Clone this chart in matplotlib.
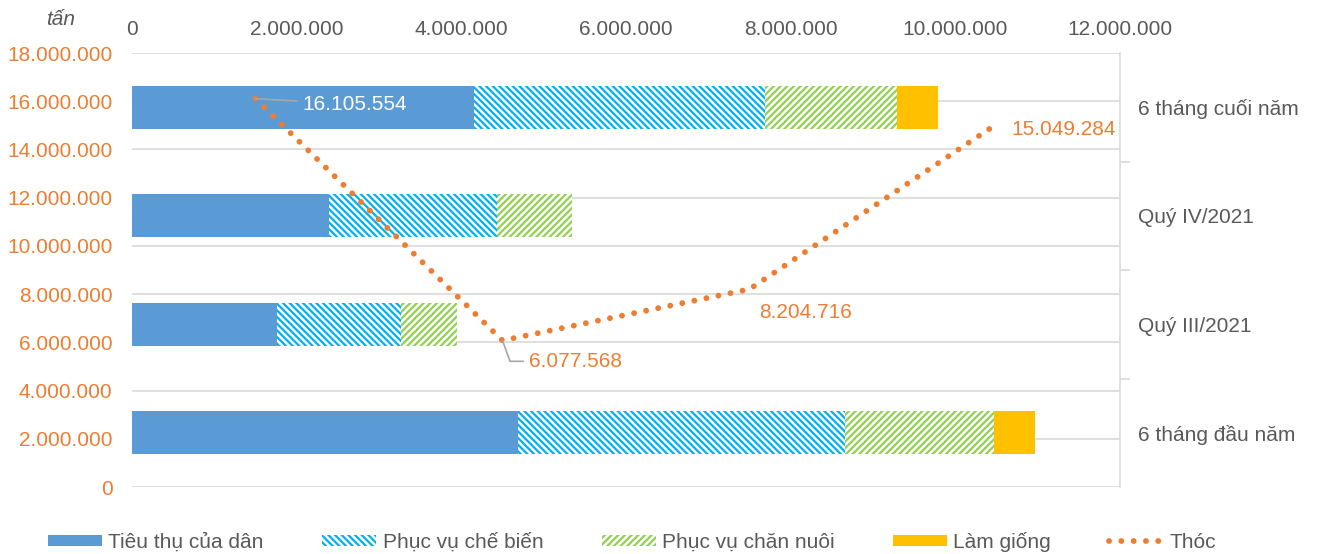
import numpy as np
import matplotlib.pyplot as plt

plt.rcParams['font.family'] = ['Liberation Sans', 'DejaVu Sans']

categories = ['6 tháng đầu năm', 'Quý III/2021', 'Quý IV/2021', '6 tháng cuối năm']
tieu_thu = [4690000, 1760000, 2390000, 4160000]
che_bien = [3970000, 1510000, 2040000, 3530000]
chan_nuoi = [1810000, 680000, 910000, 1600000]
lam_giong = [500000, 0, 0, 500000]
thoc = [16105554, 6077568, 8204716, 15049284]

x_ticks = [0, 2000000, 4000000, 6000000, 8000000, 10000000, 12000000]
y_ticks = [0, 2000000, 4000000, 6000000, 8000000, 10000000, 12000000,
           14000000, 16000000, 18000000]


def fmt(v):
    return f'{v:,.0f}'.replace(',', '.')


GRAY = '#595959'
GRID = '#D9D9D9'
ORANGE = '#ED7D31'

plt.rcParams['hatch.linewidth'] = 1.6

fig = plt.figure(figsize=(13.17, 5.54), dpi=100)
rect = [0.1002, 0.1209, 0.7502, 0.7834]

# bars (top x axis, right category axis)
axb = fig.add_axes(rect)
ypos = np.arange(len(categories))
h = 0.4
left = np.zeros(len(categories))
series = [
    ('Tiêu thụ của dân', tieu_thu, dict(color='#5B9BD5')),
    ('Phục vụ chế biến', che_bien, dict(facecolor='white', edgecolor='#00B0F0', hatch='\\\\\\\\\\', linewidth=0)),
    ('Phục vụ chăn nuôi', chan_nuoi, dict(facecolor='white', edgecolor='#92D050', hatch='/////', linewidth=0)),
    ('Làm giống', lam_giong, dict(color='#FFC000')),
]
handles = []
for name, vals, style in series:
    b = axb.barh(ypos, vals, height=h, left=left, label=name, zorder=2, **style)
    handles.append(b)
    left = left + np.array(vals)

axb.set_xlim(0, 12000000)
axb.set_ylim(-0.5, 3.5)
axb.xaxis.tick_top()
axb.set_xticks(x_ticks)
axb.set_xticklabels([fmt(v) for v in x_ticks])
axb.tick_params(axis='x', length=0, labelsize=15, labelcolor=GRAY, pad=10)
axb.yaxis.tick_right()
axb.set_yticks(ypos)
axb.set_yticklabels(categories)
axb.set_yticks(ypos[:-1] + 0.5, minor=True)
axb.tick_params(axis='y', which='major', length=0, labelsize=15, labelcolor=GRAY, pad=13)
axb.tick_params(axis='y', which='minor', length=7, color=GRID, width=1.2)
for s in ['top', 'left', 'bottom']:
    axb.spines[s].set_visible(False)
axb.spines['right'].set_color(GRID)
axb.spines['right'].set_linewidth(1.2)

# line (left value axis)
axl = fig.add_axes(rect)
axl.patch.set_alpha(0)
axl.set_xlim(0, len(categories))
axl.set_ylim(0, 18000000)
axl.set_yticks(y_ticks)
axl.set_yticklabels([fmt(v) for v in y_ticks])
axl.tick_params(axis='y', length=0, labelsize=15, labelcolor=ORANGE, pad=14)
axl.set_xticks([])
for s in axl.spines.values():
    s.set_visible(False)
# gridlines drawn behind bars
for v in y_ticks:
    axb.axhline(-0.5 + 4 * v / 18000000, color=GRID, lw=1.2, zorder=0)

xl = np.arange(len(categories)) + 0.5
ln, = axl.plot(xl, thoc, color=ORANGE, lw=4.2, linestyle=(0, (0.01, 2.1)),
               dash_capstyle='round', label='Thóc', zorder=3)
handles.append(ln)

axl.annotate(fmt(thoc[0]), (xl[0], thoc[0]), xytext=(34, -4), textcoords='offset points',
             ha='left', va='center', fontsize=15, color='white',
             arrowprops=dict(arrowstyle='-', color='#A6A6A6', lw=1.2, shrinkA=2, shrinkB=0))
axl.annotate(fmt(thoc[1]), (xl[1], thoc[1]), xytext=(19, -15), textcoords='offset points',
             ha='left', va='center', fontsize=15, color=ORANGE,
             arrowprops=dict(arrowstyle='-', color='#A6A6A6', lw=1.2, shrinkA=2, shrinkB=0,
                             connectionstyle='angle,angleA=0,angleB=-70,rad=0'))
axl.annotate(fmt(thoc[2]), (xl[2], thoc[2]), xytext=(7, -17), textcoords='offset points',
             ha='left', va='center', fontsize=15, color=ORANGE)
axl.annotate(fmt(thoc[3]), (xl[3], thoc[3]), xytext=(11, -4), textcoords='offset points',
             ha='left', va='center', fontsize=15, color=ORANGE)

fig.text(0.046, 0.965, 'tấn', fontsize=15, style='italic', color=GRAY, ha='center', va='center')

fig.legend(handles=handles, labels=[s[0] for s in series] + ['Thóc'], loc='lower center',
           bbox_to_anchor=(0.48, -0.03), ncol=5, frameon=False, fontsize=15,
           labelcolor=GRAY, handlelength=2.6, handleheight=0.5, columnspacing=2.8,
           handletextpad=0.3)

fig.savefig('out.png', dpi=100)
